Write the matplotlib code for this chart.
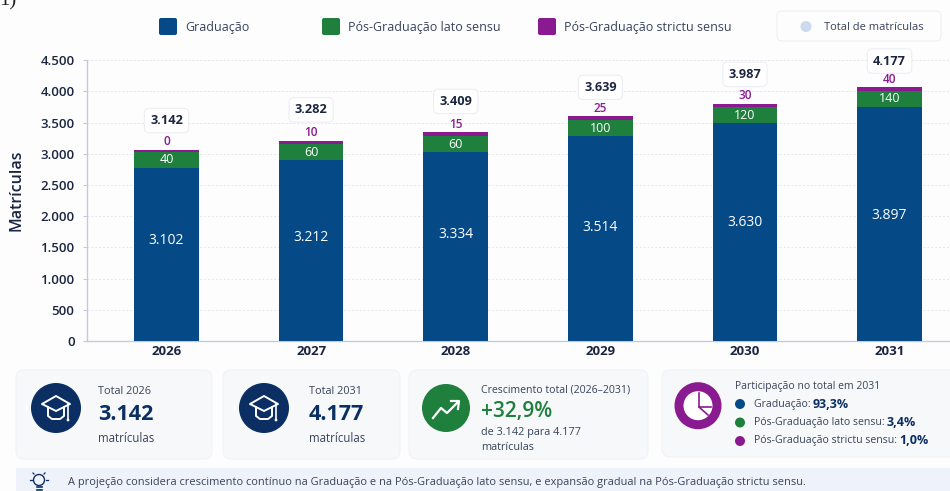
import matplotlib
matplotlib.use('Agg')
import matplotlib.pyplot as plt
from matplotlib.patches import FancyBboxPatch, Circle, Polygon, Rectangle

plt.rcParams['font.family'] = ['Open Sans', 'DejaVu Sans']

years = ['2026', '2027', '2028', '2029', '2030', '2031']

# bar heights as drawn in the picture (they sit below the printed values)
grad_bar = [2778, 2896, 3024, 3285, 3489, 3755]
lato_bar = [256, 261, 261, 257, 257, 257]
strictu_bar = [35, 53, 60, 59, 57, 59]

# values printed on the bars
grad_text = ['3.102', '3.212', '3.334', '3.514', '3.630', '3.897']
lato_text = ['40', '60', '60', '100', '120', '140']
strictu_text = ['0', '10', '15', '25', '30', '40']
total_text = ['3.142', '3.282', '3.409', '3.639', '3.987', '4.177']

y_ticks = [0, 500, 1000, 1500, 2000, 2500, 3000, 3500, 4000, 4500]
y_labels = ['0', '500', '1.000', '1.500', '2.000', '2.500', '3.000', '3.500', '4.000', '4.500']

shares = [('Graduação: ', '93,3%'), ('Pós-Graduação lato sensu: ', '3,4%'), ('Pós-Graduação strictu sensu: ', '1,0%')]

BLUE = '#054a87'
GREEN = '#1f7f3d'
PURPLE = '#8a1a8f'
NAVY = '#0b2f63'
DARK = '#1c2540'
TEXT = '#39435a'
W, H = 950, 491

# how far each total box sits above its bar, in pixels
total_lift = [29, 31, 31, 29, 29.5, 26]


def card(bg, x0, y0, x1, y1, color='#f6f8fa', edge='#f1f3f7', r=8):
    bg.add_patch(FancyBboxPatch((x0 + r, y0 + r), x1 - x0 - 2 * r, y1 - y0 - 2 * r,
                                boxstyle='round,pad=%d' % r, fc=color, ec=edge, lw=0.8))


def cap_icon(bg, cx, cy):
    bg.add_patch(Circle((cx, cy), 25, fc=NAVY, ec='none'))
    bg.add_patch(Polygon([(cx - 14, cy - 4), (cx, cy - 12), (cx + 14, cy - 4), (cx, cy + 3)],
                         fc='none', ec='white', lw=1.4, joinstyle='round'))
    bg.plot([cx - 8, cx - 8, cx - 4, cx + 4, cx + 8, cx + 8],
            [cy - 1, cy + 8, cy + 11, cy + 11, cy + 8, cy - 1], color='white', lw=1.4)
    bg.plot([cx + 12, cx + 12], [cy - 4, cy + 11], color='white', lw=1.2)
    bg.add_patch(Circle((cx + 12, cy + 12), 1.4, fc='white', ec='none'))


fig = plt.figure(figsize=(W / 100, H / 100), dpi=100, facecolor='#fdfdfe')

bg = fig.add_axes([0, 0, 1, 1])
bg.set_xlim(0, W)
bg.set_ylim(H, 0)
bg.axis('off')

# stacked bars
ax = fig.add_axes([87 / W, 1 - 341 / H, (W - 87) / W, (341 - 60.3) / H])
ax.patch.set_alpha(0)
pos = list(range(len(years)))
bottom2 = [a + b for a, b in zip(grad_bar, lato_bar)]
tops = [a + b for a, b in zip(bottom2, strictu_bar)]
ax.bar(pos, grad_bar, width=0.446, color=BLUE, zorder=3)
ax.bar(pos, lato_bar, width=0.446, bottom=grad_bar, color=GREEN, zorder=3)
ax.bar(pos, strictu_bar, width=0.446, bottom=bottom2, color=PURPLE, zorder=3)
ax.set_xlim(-0.55, 5.418)
ax.set_ylim(0, 4500)
ax.set_yticks(y_ticks)
ax.set_yticklabels(y_labels, fontsize=9.5, fontweight='semibold', color=DARK)
ax.set_xticks(pos)
ax.set_xticklabels(years, fontsize=9.5, fontweight='bold', color=DARK)
ax.tick_params(axis='x', length=0, pad=3)
ax.tick_params(axis='y', length=3, color='#c5c9dc', pad=6, width=0.8)
ax.grid(axis='y', linestyle=(0, (2, 2)), color='#e3e6ed', lw=0.7, zorder=0)
for s in ['top', 'right']:
    ax.spines[s].set_visible(False)
for s in ['left', 'bottom']:
    ax.spines[s].set_color('#c5c9dc')
    ax.spines[s].set_linewidth(1)

px = 4500 / (341 - 60.3)  # value per pixel
for i in pos:
    grad_h = grad_bar[i] / px
    ax.annotate(grad_text[i], (i, 0), xytext=(0, grad_h * 0.41 + 29), textcoords='offset pixels',
                ha='center', va='center', color='white', fontsize=10, zorder=5)
    ax.annotate(lato_text[i], (i, grad_bar[i] + lato_bar[i] / 2), ha='center', va='center',
                color='white', fontsize=9, zorder=5)
    ax.annotate(strictu_text[i], (i, tops[i]), xytext=(0, 8), textcoords='offset pixels',
                ha='center', va='center', color=PURPLE, fontsize=8.5, fontweight='semibold', zorder=5)
    ax.annotate(total_text[i], (i, tops[i]), xytext=(0, total_lift[i]), textcoords='offset pixels',
                ha='center', va='center', color=DARK, fontsize=9.2, fontweight='bold', zorder=6,
                annotation_clip=False,
                bbox=dict(boxstyle='round,pad=0.45,rounding_size=0.4', fc='white', ec='#eceef3', lw=0.8))

fig.text(16 / W, 1 - 190 / H, 'Matrículas', rotation=90, ha='center', va='center',
         fontsize=11.5, fontweight='semibold', color=DARK)

# stray text cut off by the crop
bg.text(-1, 5, '1)', family='Liberation Serif', fontsize=15, color='#222222', va='baseline')

# legend
for x0, color, x_text, label in [(159, BLUE, 185, 'Graduação'), (322, GREEN, 348, 'Pós-Graduação lato sensu'),
                                 (538, PURPLE, 564, 'Pós-Graduação strictu sensu')]:
    bg.add_patch(FancyBboxPatch((x0 + 2, 20), 14, 13, boxstyle='round,pad=2', fc=color, ec='none'))
    bg.text(x_text, 27, label, fontsize=9, color=TEXT, va='center')
card(bg, 777, 11, 941, 41, color='#fdfdfe', edge='#eef0f5', r=5)
bg.add_patch(Circle((806, 26.5), 5.5, fc='#cdd9ee', ec='none'))
bg.text(824, 27, 'Total de matrículas', fontsize=8, color=TEXT, va='center')

# cards
card(bg, 16, 370, 212, 459)
card(bg, 223, 370, 400, 459)
card(bg, 409, 370, 648, 459)
card(bg, 662, 370, 958, 457)

for x_icon, x_text, label, value in [(56, 98, 'Total 2026', total_text[0]), (264, 309, 'Total 2031', total_text[-1])]:
    cap_icon(bg, x_icon, 408)
    bg.text(x_text, 391.5, label, fontsize=7.8, color=TEXT, va='center')
    bg.text(x_text, 415, value, fontsize=15.5, fontweight='bold', color=NAVY, va='center')
    bg.text(x_text, 439, 'matrículas', fontsize=8.3, color=TEXT, va='center')

bg.add_patch(Circle((446, 408), 24, fc=GREEN, ec='none'))
bg.plot([433, 441, 447, 458], [418, 408, 413, 402], color='white', lw=1.6)
bg.plot([451, 459, 458], [401, 401, 409], color='white', lw=1.6)
bg.text(481, 390, 'Crescimento total (2026–2031)', fontsize=7.6, color=TEXT, va='center')
bg.text(481, 412, '+32,9%', fontsize=15, fontweight='semibold', color=GREEN, va='center')
bg.text(481, 433, 'de 3.142 para 4.177', fontsize=7.8, color=TEXT, va='center')
bg.text(481, 447, 'matrículas', fontsize=7.8, color=TEXT, va='center')

# pie icon
bg.add_patch(Circle((698, 405.7), 23.5, fc=PURPLE, ec='none'))
bg.add_patch(Circle((698, 405.7), 14.5, fc='white', ec='none'))
bg.plot([699, 699, 711], [393, 407, 407], color=PURPLE, lw=1.2)
bg.plot([699, 708], [407, 415], color=PURPLE, lw=1.2)

bg.text(735, 386, 'Participação no total em 2031', fontsize=7.5, color=TEXT, va='center')
for row, color, (label, value) in zip([404, 422.5, 441], [BLUE, GREEN, PURPLE], shares):
    bg.add_patch(Circle((740, row), 5, fc=color, ec='none'))
    t = bg.text(753.5, row, label, fontsize=7.6, color=TEXT, va='center')
    bg.annotate(value, xy=(1, 0.5), xycoords=t, xytext=(0, 0), textcoords='offset points',
                fontsize=9, fontweight='bold', color=NAVY, va='center')

# note strip
bg.add_patch(Rectangle((16, 468), 934, 23, fc='#eef2fa', ec='none'))
bg.add_patch(Circle((39, 480), 5.5, fc='none', ec=NAVY, lw=1))
bg.plot([36.5, 41.5], [487, 487], color=NAVY, lw=1.2)
bg.plot([36.5, 41.5], [490, 490], color=NAVY, lw=1.2)
for x0, y0, x1, y1 in [(30, 480, 32, 480), (46, 480, 48, 480), (33, 473, 34, 474), (45, 473, 44, 474)]:
    bg.plot([x0, x1], [y0, y1], color=NAVY, lw=0.9)
bg.text(68, 483, 'A projeção considera crescimento contínuo na Graduação e na Pós-Graduação lato sensu, '
        'e expansão gradual na Pós-Graduação strictu sensu.', fontsize=7.88, color=TEXT, va='center')

bg.set_xlim(0, W)
bg.set_ylim(H, 0)
fig.savefig('out.png', dpi=100, facecolor=fig.get_facecolor())
